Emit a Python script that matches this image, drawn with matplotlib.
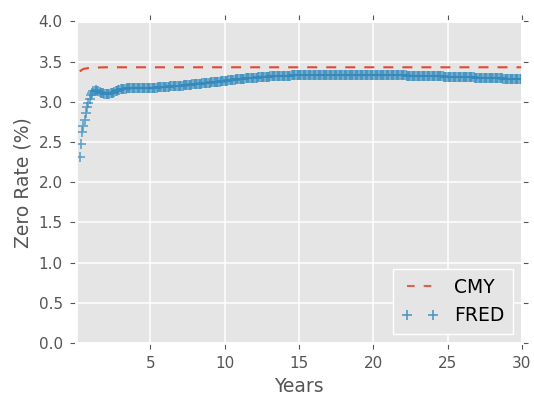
import numpy as np
import matplotlib
matplotlib.use("Agg")
import matplotlib.pyplot as plt

# FRED zero curve, monthly maturities from 3 months to 30 years (one row per year)
fred_rates = [
    2.31, 2.48, 2.62, 2.70, 2.78, 2.86, 2.93, 2.98, 3.04, 3.08,
    3.11, 3.13, 3.14, 3.145, 3.14, 3.13, 3.12, 3.115, 3.11, 3.105, 3.10, 3.10,
    3.10, 3.10, 3.10, 3.105, 3.11, 3.115, 3.12, 3.13, 3.14, 3.145, 3.15, 3.155,
    3.16, 3.16, 3.165, 3.165, 3.17, 3.17, 3.17, 3.17, 3.17, 3.17, 3.17, 3.17,
    3.17, 3.17, 3.17, 3.17, 3.17, 3.17, 3.17, 3.17, 3.17, 3.171, 3.172, 3.173,
    3.174, 3.175, 3.176, 3.177, 3.178, 3.179, 3.18, 3.181, 3.182, 3.183, 3.184, 3.185,
    3.187, 3.188, 3.19, 3.191, 3.192, 3.193, 3.194, 3.195, 3.196, 3.197, 3.198, 3.20,
    3.202, 3.203, 3.205, 3.207, 3.208, 3.21, 3.212, 3.213, 3.215, 3.217, 3.218, 3.22,
    3.222, 3.223, 3.225, 3.227, 3.228, 3.23, 3.232, 3.233, 3.235, 3.237, 3.238, 3.24,
    3.242, 3.243, 3.245, 3.247, 3.248, 3.25, 3.252, 3.253, 3.255, 3.257, 3.258, 3.26,
    3.262, 3.264, 3.266, 3.268, 3.27, 3.272, 3.274, 3.276, 3.278, 3.28, 3.282, 3.285,
    3.286, 3.288, 3.289, 3.29, 3.291, 3.293, 3.294, 3.295, 3.296, 3.297, 3.299, 3.30,
    3.301, 3.302, 3.304, 3.305, 3.306, 3.307, 3.309, 3.31, 3.311, 3.312, 3.314, 3.315,
    3.316, 3.317, 3.317, 3.318, 3.319, 3.32, 3.321, 3.322, 3.322, 3.323, 3.324, 3.325,
    3.325, 3.326, 3.326, 3.327, 3.327, 3.328, 3.328, 3.329, 3.329, 3.329, 3.33, 3.33,
    3.33, 3.331, 3.331, 3.331, 3.332, 3.332, 3.332, 3.333, 3.333, 3.333, 3.334, 3.334,
    3.334, 3.334, 3.335, 3.335, 3.335, 3.335, 3.335, 3.335, 3.336, 3.336, 3.336, 3.336,
    3.336, 3.336, 3.336, 3.336, 3.336, 3.336, 3.336, 3.336, 3.336, 3.336, 3.336, 3.336,
    3.336, 3.336, 3.336, 3.336, 3.336, 3.336, 3.336, 3.336, 3.336, 3.336, 3.336, 3.336,
    3.336, 3.336, 3.336, 3.336, 3.335, 3.335, 3.335, 3.335, 3.335, 3.335, 3.334, 3.334,
    3.334, 3.334, 3.334, 3.333, 3.333, 3.333, 3.333, 3.332, 3.332, 3.332, 3.332, 3.331,
    3.331, 3.331, 3.331, 3.33, 3.33, 3.33, 3.33, 3.329, 3.329, 3.329, 3.328, 3.328,
    3.328, 3.328, 3.327, 3.327, 3.327, 3.326, 3.326, 3.326, 3.325, 3.325, 3.325, 3.324,
    3.324, 3.324, 3.323, 3.323, 3.322, 3.322, 3.322, 3.321, 3.321, 3.32, 3.32, 3.32,
    3.319, 3.319, 3.318, 3.318, 3.317, 3.317, 3.316, 3.316, 3.315, 3.315, 3.314, 3.314,
    3.313, 3.313, 3.312, 3.312, 3.311, 3.311, 3.31, 3.31, 3.309, 3.309, 3.308, 3.308,
    3.307, 3.307, 3.306, 3.306, 3.305, 3.305, 3.304, 3.303, 3.303, 3.302, 3.302, 3.301,
    3.301, 3.30, 3.30, 3.299, 3.299, 3.298, 3.298, 3.297, 3.297, 3.296, 3.296, 3.295,
    3.295, 3.294, 3.294, 3.293, 3.293, 3.292, 3.291, 3.291, 3.29, 3.29, 3.289, 3.289,
    3.288, 3.288, 3.287, 3.287, 3.286, 3.286, 3.285, 3.285, 3.284, 3.284, 3.283, 3.283,
]
fred_years = np.arange(3, 3 + len(fred_rates)) / 12.0

# CMY curve
cmy_years = [0.25, 0.5, 1, 2, 3, 5, 7, 10, 20, 30]
cmy_rates = [3.38, 3.41, 3.425, 3.43, 3.43, 3.43, 3.43, 3.43, 3.43, 3.43]

xticks = [5, 10, 15, 20, 25, 30]
yticks = [0.0, 0.5, 1.0, 1.5, 2.0, 2.5, 3.0, 3.5, 4.0]

GRIS = '#555555'
plt.rcParams['lines.scale_dashes'] = False

fig = plt.figure(figsize=(5.34, 3.99), dpi=100)
ax = fig.add_axes([0.1423, 0.1404, 0.8352, 0.8058])
ax.set_facecolor('#E5E5E5')
ax.set_axisbelow(True)
ax.grid(True, color='white', lw=1.1)
for s in ax.spines.values():
    s.set_color('white')
    s.set_linewidth(2)

ax.plot(cmy_years, cmy_rates, color='#E24A33', lw=1.5, dashes=(7.2, 6.5),
        label='CMY')
ax.plot(fred_years, fred_rates, ls='none', marker='+', ms=7.5, mew=1.2,
        color='#348ABD', alpha=0.75, label='FRED')

ax.set_xlim(0, 30)
ax.set_ylim(0, 4)
ax.set_xticks(xticks)
ax.set_yticks(yticks)
ax.set_yticklabels([f'{v:.1f}' for v in yticks])
ax.tick_params(direction='out', length=4.5, width=0.8, color=GRIS,
               labelcolor=GRIS, labelsize=11, pad=5,
               top=True, right=True)

ax.set_xlabel('Years', fontsize=13.5, color=GRIS)
ax.set_ylabel('Zero Rate (%)', fontsize=13.5, color=GRIS)

leg = ax.legend(loc='lower right', numpoints=2, fontsize=13.5,
                handlelength=2.0, handletextpad=0.8, borderpad=0.45,
                fancybox=False, facecolor='#E5E5E5', edgecolor='white',
                framealpha=1.0)
for h in leg.legend_handles:
    h.set_alpha(0.85)
    if h.get_label() == 'CMY':
        h.set_dashes((5.5, 6.5))

fig.savefig('out.png', dpi=100)
